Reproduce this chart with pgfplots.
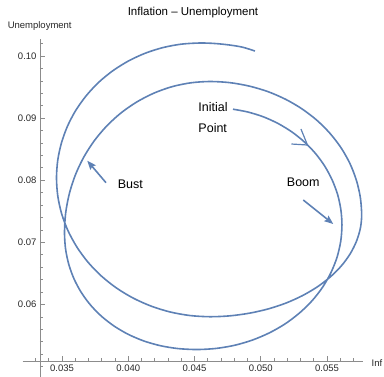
\documentclass[border=0pt]{standalone}
\usepackage{pgfplots}
\pgfplotsset{compat=1.18}
\usepackage{fontspec}
\setmainfont{Liberation Sans}
\usetikzlibrary{arrows.meta}

\definecolor{curve}{RGB}{94,129,181}
\definecolor{axisgray}{RGB}{140,140,140}
\definecolor{labelgray}{RGB}{40,40,40}

\begin{document}
\begin{tikzpicture}
% overall frame of the figure (axis box lower-left corner sits at the origin)
\path[use as bounding box] (-40pt,-15.5pt) rectangle (344pt,361.5pt);

\begin{axis}[
  scale only axis,
  width=323pt, height=322.2pt,
  xmin=0.03334, xmax=0.05772,
  ymin=0.05081, ymax=0.10269,
  axis lines=left,
  axis line style={-, draw=axisgray, line width=0.6pt},
  xtick={0.035,0.04,0.045,0.05,0.055},
  ytick={0.06,0.07,0.08,0.09,0.10},
  minor xtick={0.034,0.036,0.037,0.038,0.039,0.041,0.042,0.043,0.044,0.046,0.047,0.048,0.049,0.051,0.052,0.053,0.054,0.056,0.057},
  minor ytick={0.052,0.054,0.056,0.058,0.062,0.064,0.066,0.068,0.072,0.074,0.076,0.078,0.082,0.084,0.086,0.088,0.092,0.094,0.096,0.098,0.102},
  tick align=inside,
  major tick length=5pt,
  minor tick length=3pt,
  tick style={draw=axisgray, line width=0.6pt},
  scaled ticks=false,
  /pgf/number format/assume math mode=true,
  xticklabel style={/pgf/number format/.cd, fixed, fixed zerofill, precision=3},
  yticklabel style={/pgf/number format/.cd, fixed, fixed zerofill, precision=2},
  ticklabel style={font=\fontsize{9.5}{11}\selectfont, text=labelgray},
  clip=false,
]

% stubs of the axis lines beyond the crossing point
\draw[axisgray, line width=0.6pt] (axis cs:0.03202,0.05081) -- (axis cs:0.03334,0.05081);
\draw[axisgray, line width=0.6pt] (axis cs:0.033,0.05081) -- ([yshift=3pt]axis cs:0.033,0.05081);
\draw[axisgray, line width=0.6pt] (axis cs:0.03334,0.04831) -- (axis cs:0.03334,0.05081);
\draw[axisgray, line width=0.6pt] (axis cs:0.03334,0.050) -- ([xshift=3pt]axis cs:0.03334,0.050);

% inflation-unemployment trajectory, starting at the initial point
\addplot[curve, line width=1.6pt, smooth] coordinates {
(0.047906,0.091433) (0.049030,0.090982) (0.050215,0.090193) (0.051340,0.089098)
(0.052381,0.087729) (0.053325,0.086103) (0.054155,0.084251) (0.054849,0.082206)
(0.055400,0.080000) (0.055808,0.077665) (0.056049,0.075250) (0.056132,0.072786)
(0.056039,0.070169) (0.055762,0.067601) (0.055299,0.065114) (0.054668,0.062762)
(0.053871,0.060581) (0.052925,0.058615) (0.051851,0.056881) (0.050660,0.055427)
(0.049377,0.054264) (0.048019,0.053414) (0.046617,0.052910) (0.045189,0.052737)
(0.043750,0.052892) (0.042429,0.053352) (0.041183,0.054111) (0.040021,0.055159)
(0.038955,0.056482) (0.038000,0.058056) (0.037167,0.059865) (0.036469,0.061881)
(0.035915,0.064079) (0.035514,0.066436) (0.035270,0.068937) (0.035189,0.071659)
(0.035283,0.074821) (0.035566,0.077931) (0.036025,0.080932) (0.036660,0.083776)
(0.037458,0.086412) (0.038404,0.088792) (0.039485,0.090886) (0.040679,0.092641)
(0.041968,0.094048) (0.043325,0.095072) (0.044737,0.095686) (0.046170,0.095894)
(0.047664,0.095710) (0.049136,0.095153) (0.050551,0.094258) (0.051894,0.093011)
(0.053140,0.091451) (0.054268,0.089597) (0.055253,0.087483) (0.056087,0.085145)
(0.056747,0.082623) (0.057226,0.079960) (0.057521,0.077203) (0.057619,0.074396)
(0.057521,0.072259) (0.057226,0.070161) (0.056747,0.068129) (0.056087,0.066208)
(0.055253,0.064427) (0.054268,0.062818) (0.053140,0.061404) (0.051894,0.060209)
(0.050551,0.059266) (0.049136,0.058583) (0.047664,0.058159) (0.046170,0.058019)
(0.044657,0.058211) (0.043174,0.058776) (0.041737,0.059720) (0.040377,0.061014)
(0.039118,0.062634) (0.037981,0.064557) (0.036979,0.066758) (0.036140,0.069187)
(0.035466,0.071807) (0.034977,0.074573) (0.034684,0.077440) (0.034585,0.080354)
(0.034678,0.083192) (0.034955,0.085974) (0.035409,0.088673) (0.036034,0.091224)
(0.036823,0.093588) (0.037755,0.095733) (0.038822,0.097601) (0.040000,0.099179)
(0.041271,0.100438) (0.042615,0.101353) (0.044002,0.101907) (0.045415,0.102093)
(0.046532,0.102013) (0.047642,0.101771) (0.048630,0.101417) (0.049566,0.100805)
};

% open arrowhead showing the direction of motion
\draw[curve, line width=1.2pt, line join=round]
  (axis cs:0.053038,0.088245) -- (axis cs:0.053528,0.085668) -- (axis cs:0.052321,0.085829);

% annotation arrows
\draw[curve, line width=1.6pt, -{Stealth[length=9pt,width=7pt,inset=1.5pt]}]
  (axis cs:0.053211,0.076812) -- (axis cs:0.055476,0.072947);
\draw[curve, line width=1.6pt, -{Stealth[length=9pt,width=7pt,inset=1.5pt]}]
  (axis cs:0.038321,0.079597) -- (axis cs:0.036909,0.083140);

% annotations
\node[anchor=west, inner sep=0pt, font=\fontsize{12.5}{14}\selectfont] at (axis cs:0.045287,0.091836) {Initial};
\node[anchor=west, inner sep=0pt, font=\fontsize{12.5}{14}\selectfont] at (axis cs:0.045287,0.088357) {Point};
\node[inner sep=0pt, font=\fontsize{12.5}{14}\selectfont] at (axis cs:0.053211,0.079662) {Boom};
\node[inner sep=0pt, font=\fontsize{12.5}{14}\selectfont] at (axis cs:0.040155,0.079388) {Bust};
\end{axis}

% title and axis labels
\node[font=\fontsize{11.5}{13}\selectfont] at (153pt,349pt) {Inflation -- Unemployment};
\node[font=\fontsize{9.5}{11}\selectfont, text=labelgray] at (-0.3pt,335pt) {Unemployment};
\node[anchor=west, inner sep=0pt, font=\fontsize{9.5}{11}\selectfont, text=labelgray] at (331.5pt,-1.2pt) {Inf};
\end{tikzpicture}
\end{document}
